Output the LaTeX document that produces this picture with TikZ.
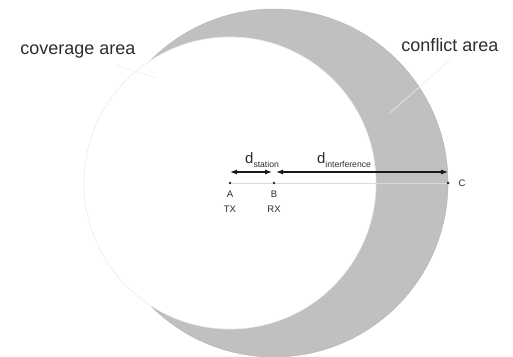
\documentclass[tikz,border=0pt]{standalone}
\usepackage{fontspec}
\setmainfont{Liberation Sans}
\usetikzlibrary{arrows.meta,positioning}
\definecolor{conflictgray}{RGB}{192,192,192}
\definecolor{labelgray}{RGB}{45,45,45}
\newcommand{\dist}[1]{{\fontsize{15}{15}\selectfont d}\raisebox{-3.5pt}{\fontsize{8.6}{9}\selectfont #1}}
\begin{document}
\begin{tikzpicture}[
  x=1pt, y=-1pt,
  every node/.style={text=labelgray},
  dot/.style={circle, fill=black!85, inner sep=0pt, minimum size=2.6pt},
  arealabel/.style={font=\fontsize{18}{20}\selectfont, inner sep=2pt},
  smalllabel/.style={font=\fontsize{9.5}{15}\selectfont, align=center, inner sep=1pt},
  distarrow/.style={draw=black!90, line width=1.1pt, {Latex[length=7pt,width=5pt]}-{Latex[length=7pt,width=5pt]}},
  leader/.style={draw=black!7, line width=0.6pt}
]
\useasboundingbox (0,0) rectangle (513,356);

% stations
\node[dot] (A) at (230,183) {};
\node[dot] (B) at (274,183) {};
\node[dot] (C) at (448,183) {};

% interference range around the receiver, coverage range around the sender
\fill[conflictgray, draw=black!30, line width=0.4pt] (B.center) circle[radius=174pt];
\fill[white, draw=black!8, line width=0.6pt] (A.center) circle[radius=146pt];

\draw[black!15, line width=0.5pt] (A.center) -- (C.center);
\node[dot] at (A) {};
\node[dot] at (B) {};
\node[dot] at (C) {};

\node[smalllabel, below=5pt of A] (a label) {A\\TX};
\node[smalllabel, below=5pt of B] (b label) {B\\RX};
\node[smalllabel, right=8pt of C] (c label) {C};

% distances
\draw[distarrow, shorten >=2pt] ([yshift=11pt]A.center) -- ([yshift=11pt]B.center);
\draw[distarrow, shorten <=2pt] ([yshift=11pt]B.center) -- ([yshift=11pt]C.center);
\node (d station) at (262,160) {\dist{station}};
\node (d interference) at (344,160) {\dist{interference}};

% area labels
\node[arealabel] (coverage) at (78,52) {coverage area};
\node[arealabel] (conflict) at (450,45) {conflict area};
\coordinate (coverage end) at (156,78);
\coordinate (conflict end) at (390,113);
\draw[leader] ([xshift=-22pt,yshift=-4pt]coverage.south east) -- (coverage end);
\draw[leader] ([yshift=-6pt]conflict.south) -- (conflict end);
\end{tikzpicture}
\end{document}
